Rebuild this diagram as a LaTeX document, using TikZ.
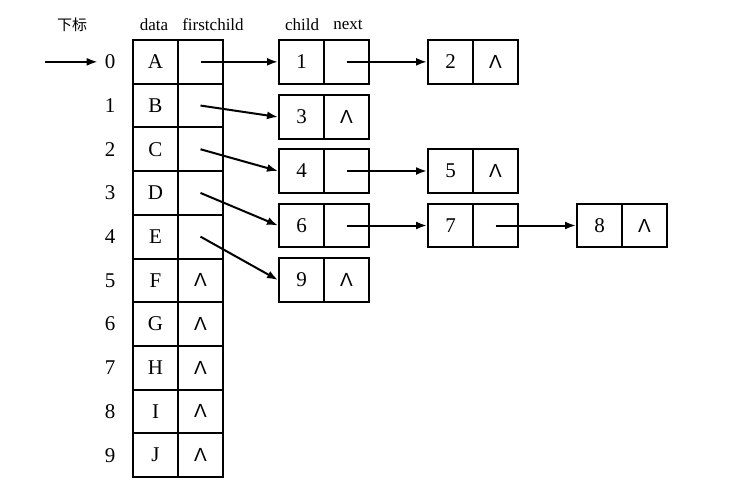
\documentclass[tikz,border=0pt]{standalone}
\usepackage{fontspec}
\setmainfont{Liberation Serif}
\newfontfamily\cjk{Noto Sans CJK SC}
\newfontfamily\symf{Liberation Sans}
\usetikzlibrary{arrows.meta}
\newcommand{\nil}{{\symf\fontsize{9.5}{10}\selectfont Λ}}
\begin{document}
\begin{tikzpicture}[x=0.5pt,y=-0.5pt,
  cell/.style={draw,line width=1pt,minimum width=22.5pt,minimum height=21.85pt,inner sep=0pt,font=\fontsize{10.5}{12}\selectfont},
  idx/.style={font=\fontsize{10.5}{12}\selectfont},
  hdr/.style={font=\fontsize{8.5}{10}\selectfont},
  ptr/.style={line width=1pt,-{Latex[length=5.5pt,width=4pt]}}]
\useasboundingbox (0,0) rectangle (743,493);
% headers
\node[hdr,font=\cjk\fontsize{7.5}{9}\selectfont] (hx) at (72,25) {下标};
\node[hdr] (hd) at (154,25) {data};
\node[hdr] (hf) at (213,25) {firstchild};
\node[hdr] (hc) at (302,25) {child};
\node[hdr] (hn) at (348,25) {next};
% table
\foreach \i/\l/\p in {0/A/,1/B/,2/C/,3/D/,4/E/,5/F/\nil,6/G/\nil,7/H/\nil,8/I/\nil,9/J/\nil}{
  \node[cell] (d\i) at (155.5,{61.85+43.7*\i}) {\l};
  \node[cell] (f\i) at (200.5,{61.85+43.7*\i}) {\p};
  \node[idx] (i\i) at (110,{61.85+43.7*\i}) {\i};
}
\coordinate (start) at (45,61.85);
\draw[ptr] (start) -- (i0.west);
% list nodes: name/left x/center y/value/next
\foreach \n/\x/\y/\v/\q in {1/279/61.85/1/,2/428/61.85/2/\nil,3/279/117/3/\nil,4/279/171/4/,5/428/171/5/\nil,6/279/225.5/6/,7/428/225.5/7/,8/577/225.5/8/\nil,9/279/280/9/\nil}{
  \node[cell] (c\n) at ({\x+22.5},\y) {\v};
  \node[cell] (x\n) at ({\x+67.5},\y) {\q};
}
% firstchild pointers
\draw[ptr] (f0.center) -- (c1.west);
\draw[ptr] (f1.center) -- (c3.west);
\draw[ptr] (f2.center) -- (c4.west);
\draw[ptr] (f3.center) -- (c6.west);
\draw[ptr] (f4.center) -- (c9.west);
% next pointers
\draw[ptr] (x1.center) -- (c2.west);
\draw[ptr] (x4.center) -- (c5.west);
\draw[ptr] (x6.center) -- (c7.west);
\draw[ptr] (x7.center) -- (c8.west);
\end{tikzpicture}
\end{document}
